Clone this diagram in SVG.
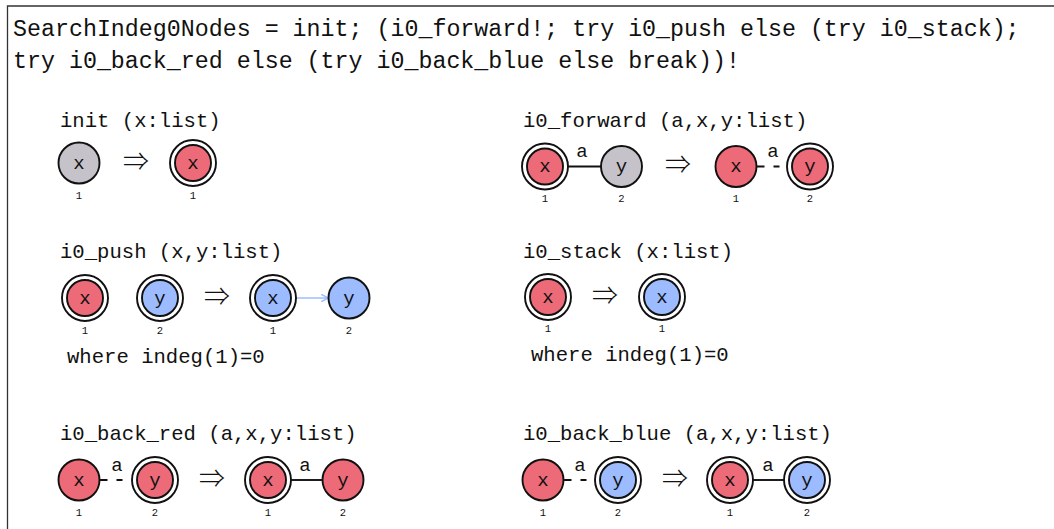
<svg xmlns="http://www.w3.org/2000/svg" width="1054" height="529" viewBox="0 0 1054 529">
<defs>
<style>
.hdr{font-family:"Liberation Mono","DejaVu Sans Mono",monospace;font-size:23.3px;fill:#111}
.ttl{font-family:"Liberation Mono","DejaVu Sans Mono",monospace;font-size:20.6px;fill:#111}
.lbl{font-family:"Liberation Mono","DejaVu Sans Mono",monospace;font-size:19px;fill:#111;text-anchor:middle}
.num{font-family:"Liberation Mono","DejaVu Sans Mono",monospace;font-size:10.5px;fill:#111;text-anchor:middle}
.arr{font-family:"Noto Sans CJK JP","DejaVu Sans",sans-serif;font-weight:300;font-size:26px;fill:#111;text-anchor:middle}
.ring{fill:#fff;stroke:#111;stroke-width:1.9}
.red{fill:#ed6b78;stroke:#111;stroke-width:1.9}
.gray{fill:#c5c3c9;stroke:#111;stroke-width:1.9}
.blue{fill:#9cbcff;stroke:#111;stroke-width:1.9}
.edge{stroke:#111;stroke-width:1.9;fill:none}
.dash{stroke:#111;stroke-width:1.9;fill:none;stroke-dasharray:8 9 6 20}
.push{stroke:#9cbcff;stroke-width:1.7;fill:none}
.frame{stroke:#333;stroke-width:1.3;fill:none}
</style>
<marker id="ah" viewBox="0 0 10 10" refX="9" refY="5" markerWidth="9" markerHeight="9" markerUnits="userSpaceOnUse" orient="auto">
<path d="M1,1 L9,5 L1,9" fill="none" stroke="#9cbcff" stroke-width="1.7"/>
</marker>
</defs>
<rect width="1054" height="529" fill="#fff"/>
<g id="frame">
<path class="frame" d="M7.5,529 L7.5,6 L1054,6"/>
<text class="hdr" x="13" y="36">SearchIndeg0Nodes = init; (i0_forward!; try i0_push else (try i0_stack);</text>
<text class="hdr" x="13" y="68">try i0_back_red else (try i0_back_blue else break))!</text>
</g>
<g id="titles">
<text class="ttl" x="60" y="127">init (x:list)</text>
<text class="ttl" x="523" y="127">i0_forward (a,x,y:list)</text>
<text class="ttl" x="60" y="258">i0_push (x,y:list)</text>
<text class="ttl" x="523" y="258">i0_stack (x:list)</text>
<text class="ttl" x="67" y="363">where indeg(1)=0</text>
<text class="ttl" x="531" y="361">where indeg(1)=0</text>
<text class="ttl" x="60" y="440">i0_back_red (a,x,y:list)</text>
<text class="ttl" x="523" y="440">i0_back_blue (a,x,y:list)</text>
</g>
<g id="arrows">
<text class="arr" x="136" y="171">⇒</text>
<text class="arr" x="678" y="174">⇒</text>
<text class="arr" x="217" y="306">⇒</text>
<text class="arr" x="605" y="305">⇒</text>
<text class="arr" x="212" y="488">⇒</text>
<text class="arr" x="675" y="488">⇒</text>
</g>
<g id="connectors">
<line class="edge" x1="568" y1="166.5" x2="601" y2="166.5"/>
<text class="lbl" x="582" y="157">a</text>
<line class="dash" x1="756.5" y1="166.5" x2="787" y2="166.5"/>
<text class="lbl" x="773" y="157">a</text>
<line class="push" x1="296" y1="298" x2="328.5" y2="298" marker-end="url(#ah)"/>
<line class="dash" x1="99.5" y1="480" x2="132" y2="480"/>
<text class="lbl" x="117" y="471">a</text>
<line class="edge" x1="291" y1="480" x2="322.5" y2="480"/>
<text class="lbl" x="305" y="471">a</text>
<line class="dash" x1="563.5" y1="480" x2="595" y2="480"/>
<text class="lbl" x="580" y="471">a</text>
<line class="edge" x1="753" y1="480" x2="784" y2="480"/>
<text class="lbl" x="768" y="471">a</text>
</g>
<g id="init_l_x"><circle class="gray" cx="79" cy="163" r="20.5"/><text class="lbl" x="79" y="168.5">x</text><text class="num" x="79" y="199">1</text></g>
<g id="init_r_x"><circle class="ring" cx="193" cy="163" r="23"/><circle class="red" cx="193" cy="163" r="18"/><text class="lbl" x="193" y="168.5">x</text><text class="num" x="193" y="199">1</text></g>
<g id="fwd_l_x"><circle class="ring" cx="545" cy="166.5" r="23"/><circle class="red" cx="545" cy="166.5" r="18"/><text class="lbl" x="545" y="172">x</text><text class="num" x="545" y="202">1</text></g>
<g id="fwd_l_y"><circle class="gray" cx="621.5" cy="166.5" r="20.5"/><text class="lbl" x="621.5" y="172">y</text><text class="num" x="621.5" y="202">2</text></g>
<g id="fwd_r_x"><circle class="red" cx="736" cy="166.5" r="20.5"/><text class="lbl" x="736" y="172">x</text><text class="num" x="736" y="202">1</text></g>
<g id="fwd_r_y"><circle class="ring" cx="810" cy="166.5" r="23"/><circle class="red" cx="810" cy="166.5" r="18"/><text class="lbl" x="810" y="172">y</text><text class="num" x="810" y="202">2</text></g>
<g id="push_l_x"><circle class="ring" cx="85" cy="298" r="23"/><circle class="red" cx="85" cy="298" r="18"/><text class="lbl" x="85" y="303.5">x</text><text class="num" x="85" y="334">1</text></g>
<g id="push_l_y"><circle class="ring" cx="160" cy="298" r="23"/><circle class="blue" cx="160" cy="298" r="18"/><text class="lbl" x="160" y="303.5">y</text><text class="num" x="160" y="334">2</text></g>
<g id="push_r_x"><circle class="ring" cx="273" cy="298" r="23"/><circle class="blue" cx="273" cy="298" r="18"/><text class="lbl" x="273" y="303.5">x</text><text class="num" x="273" y="334">1</text></g>
<g id="push_r_y"><circle class="blue" cx="349" cy="298" r="20.5"/><text class="lbl" x="349" y="303.5">y</text><text class="num" x="349" y="334">2</text></g>
<g id="stack_l_x"><circle class="ring" cx="548" cy="297" r="23"/><circle class="red" cx="548" cy="297" r="18"/><text class="lbl" x="548" y="302.5">x</text><text class="num" x="548" y="332">1</text></g>
<g id="stack_r_x"><circle class="ring" cx="662" cy="297" r="23"/><circle class="blue" cx="662" cy="297" r="18"/><text class="lbl" x="662" y="302.5">x</text><text class="num" x="662" y="332">1</text></g>
<g id="bred_l_x"><circle class="red" cx="79" cy="480" r="20.5"/><text class="lbl" x="79" y="485.5">x</text><text class="num" x="79" y="516">1</text></g>
<g id="bred_l_y"><circle class="ring" cx="155" cy="480" r="23"/><circle class="red" cx="155" cy="480" r="18"/><text class="lbl" x="155" y="485.5">y</text><text class="num" x="155" y="516">2</text></g>
<g id="bred_r_x"><circle class="ring" cx="268" cy="480" r="23"/><circle class="red" cx="268" cy="480" r="18"/><text class="lbl" x="268" y="485.5">x</text><text class="num" x="268" y="516">1</text></g>
<g id="bred_r_y"><circle class="red" cx="343" cy="480" r="20.5"/><text class="lbl" x="343" y="485.5">y</text><text class="num" x="343" y="516">2</text></g>
<g id="bblue_l_x"><circle class="red" cx="543" cy="480" r="20.5"/><text class="lbl" x="543" y="485.5">x</text><text class="num" x="543" y="516">1</text></g>
<g id="bblue_l_y"><circle class="ring" cx="618" cy="480" r="23"/><circle class="blue" cx="618" cy="480" r="18"/><text class="lbl" x="618" y="485.5">y</text><text class="num" x="618" y="516">2</text></g>
<g id="bblue_r_x"><circle class="ring" cx="730" cy="480" r="23"/><circle class="red" cx="730" cy="480" r="18"/><text class="lbl" x="730" y="485.5">x</text><text class="num" x="730" y="516">1</text></g>
<g id="bblue_r_y"><circle class="ring" cx="807" cy="480" r="23"/><circle class="blue" cx="807" cy="480" r="18"/><text class="lbl" x="807" y="485.5">y</text><text class="num" x="807" y="516">2</text></g>
</svg>
